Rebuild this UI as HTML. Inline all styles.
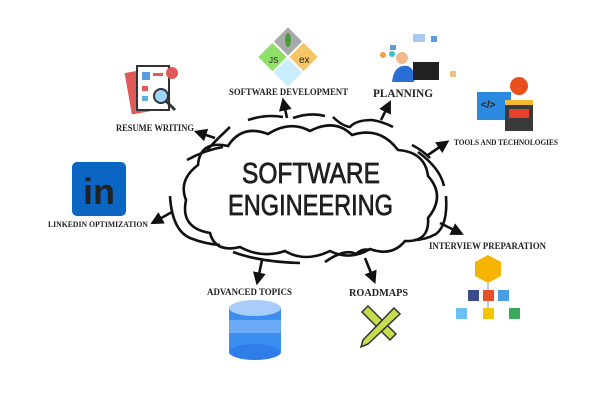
<!DOCTYPE html>
<html><head><meta charset="utf-8"><style>
html,body{margin:0;padding:0;background:#fff;width:600px;height:400px;overflow:hidden}
svg text{font-family:"Liberation Serif",serif;font-weight:bold;fill:#222}
</style></head><body>
<svg width="600" height="400" viewBox="0 0 600 400" xmlns="http://www.w3.org/2000/svg">
<defs><marker id="a" markerWidth="5" markerHeight="5" refX="2.5" refY="2.5" orient="auto"><path d="M0,0 L5,2.5 L0,5 Z" fill="#111"/></marker></defs>
<!-- cloud -->
<path d="M198 165 Q200 140 228 146 Q242 124 268 134 Q290 120 310 131 Q335 118 352 135 Q380 126 398 150 Q425 152 428 176 Q446 196 428 218 Q430 242 405 241 Q392 257 370 249 Q350 261 330 251 Q305 263 285 251 Q262 259 240 247 Q215 253 210 233 Q180 228 186 200 Q178 180 198 165 Z" fill="none" stroke="#111" stroke-width="2.6"/>
<g fill="none" stroke="#111" stroke-width="2.6">
<path d="M187 160 Q205 150 223 147"/>
<path d="M207 150 Q218 138 230 127"/>
<path d="M248 120 Q266 114 283 117"/>
<path d="M293 118 Q310 112 325 116"/>
<path d="M333 117 Q342 126 350 127 Q356 120 372 120 Q384 122 393 127"/>
<path d="M412 145 Q422 150 430 158"/>
<path d="M418 152 Q440 168 444 186"/>
<path d="M446 196 Q448 225 436 234 Q425 240 414 240"/>
<path d="M170 196 Q172 230 190 238 Q205 244 220 245"/>
<path d="M233 252 Q260 262 300 263"/>
<path d="M325 262 Q345 248 356 254 Q362 248 370 250"/>
</g>
<g stroke="#111" stroke-width="2.6" marker-end="url(#a)">
<line x1="215" y1="138" x2="200" y2="133"/>
<line x1="287" y1="118" x2="284" y2="104"/>
<line x1="381" y1="120" x2="388" y2="106"/>
<line x1="428" y1="155" x2="444" y2="144"/>
<line x1="172" y1="212" x2="156" y2="221"/>
<line x1="440" y1="223" x2="458" y2="232"/>
<line x1="262" y1="260" x2="258" y2="279"/>
<line x1="365" y1="258" x2="373" y2="278"/>
</g>
<text x="242" y="183" textLength="138" lengthAdjust="spacingAndGlyphs" style="font-family:'Liberation Sans',sans-serif;font-weight:normal;font-size:29px;stroke:#111;stroke-width:0.7" fill="#111">SOFTWARE</text>
<text x="228" y="215" textLength="165" lengthAdjust="spacingAndGlyphs" style="font-family:'Liberation Sans',sans-serif;font-weight:normal;font-size:29px;stroke:#111;stroke-width:0.7" fill="#111">ENGINEERING</text>
<!-- labels -->
<text x="229" y="95" textLength="119" lengthAdjust="spacingAndGlyphs" font-size="9">SOFTWARE DEVELOPMENT</text>
<text x="373" y="97" textLength="60" lengthAdjust="spacingAndGlyphs" font-size="11.5">PLANNING</text>
<text x="116" y="131" textLength="78" lengthAdjust="spacingAndGlyphs" font-size="9">RESUME WRITING</text>
<text x="454" y="145" textLength="104" lengthAdjust="spacingAndGlyphs" font-size="8">TOOLS AND TECHNOLOGIES</text>
<text x="48" y="227" textLength="100" lengthAdjust="spacingAndGlyphs" font-size="8.5">LINKEDIN OPTIMIZATION</text>
<text x="429" y="249" textLength="117" lengthAdjust="spacingAndGlyphs" font-size="9">INTERVIEW PREPARATION</text>
<text x="207" y="295" textLength="85" lengthAdjust="spacingAndGlyphs" font-size="9.5">ADVANCED TOPICS</text>
<text x="349" y="296" textLength="59" lengthAdjust="spacingAndGlyphs" font-size="10">ROADMAPS</text>
<!-- linkedin -->
<rect x="72" y="162" width="54" height="54" rx="5" fill="#0a66c2"/>
<text x="99" y="204" text-anchor="middle" style="font-family:'Liberation Sans',sans-serif;font-weight:bold;font-size:36px" fill="#fff">in</text>
<!-- database -->
<rect x="229" y="308" width="52" height="44" fill="#3b8ef0"/>
<rect x="229" y="320" width="52" height="13" fill="#6aa9f5"/>
<ellipse cx="255" cy="352" rx="26" ry="8" fill="#2f7de8"/>
<ellipse cx="255" cy="308" rx="26" ry="8" fill="#a9cdfb"/>
<!-- diamond icon -->
<g transform="translate(288,57) rotate(45)">
<rect x="-21" y="-21" width="20" height="20" fill="#aaa"/>
<rect x="1" y="-21" width="20" height="20" fill="#f6c565"/>
<rect x="-21" y="1" width="20" height="20" fill="#8ee06a"/>
<rect x="1" y="1" width="20" height="20" fill="#c9ecff"/>
</g>
<ellipse cx="288" cy="40" rx="3" ry="7" fill="#4a9a3a"/>
<text x="299" y="63" font-size="10" style="font-family:'Liberation Sans',sans-serif;font-weight:normal">ex</text>
<text x="269" y="63" font-size="8" style="font-family:'Liberation Sans',sans-serif;font-weight:normal">JS</text>
<!-- resume icon -->
<rect x="128" y="70" width="32" height="42" fill="#e05a5a" transform="rotate(-10 144 91)"/>
<rect x="137" y="66" width="32" height="44" fill="#fff" stroke="#333" stroke-width="2"/>
<rect x="142" y="72" width="8" height="8" fill="#5a9ee0"/><rect x="153" y="73" width="10" height="3" fill="#e05a5a"/>
<rect x="142" y="86" width="6" height="5" fill="#e05a5a"/><rect x="142" y="96" width="6" height="5" fill="#5ab0e0"/>
<circle cx="161" cy="96" r="7" fill="#9ad4ff" stroke="#333" stroke-width="2"/>
<line x1="166" y1="101" x2="175" y2="110" stroke="#333" stroke-width="3"/>
<circle cx="172" cy="73" r="6" fill="#e05a5a"/>
<!-- planning -->
<circle cx="402" cy="58" r="6" fill="#f2b98c"/><path d="M392 82 Q394 64 408 66 Q416 70 414 82 Z" fill="#2a6fd6"/>
<rect x="413" y="62" width="26" height="18" fill="#222"/>
<rect x="390" y="45" width="6" height="5" fill="#5a9ee0"/><rect x="413" y="34" width="12" height="8" fill="#aac8f0"/><rect x="431" y="36" width="6" height="6" fill="#5a9ee0"/>
<circle cx="383" cy="55" r="3" fill="#f0a040"/><circle cx="392" cy="54" r="3" fill="#3cc0c0"/><rect x="450" y="71" width="6" height="6" fill="#f0c080"/>
<!-- tools -->
<circle cx="519" cy="86" r="9" fill="#e8501e"/>
<rect x="477" y="92" width="34" height="28" fill="#2b8ae0"/><text x="481" y="108" font-size="10" fill="#fff" style="font-family:'Liberation Sans',sans-serif">&lt;/&gt;</text>
<rect x="505" y="100" width="28" height="31" fill="#3a3a3a"/><rect x="505" y="100" width="28" height="5" fill="#f5b82e"/><rect x="509" y="109" width="20" height="9" fill="#e8402a"/>
<!-- interview -->
<path d="M488 255 L501 262 L501 276 L488 283 L475 276 L475 262 Z" fill="#f5b400"/>
<line x1="488" y1="283" x2="488" y2="310" stroke="#bcd" stroke-width="2"/>
<rect x="468" y="290" width="11" height="11" fill="#3a4a8a"/><rect x="483" y="290" width="11" height="11" fill="#e8502a"/><rect x="498" y="290" width="11" height="11" fill="#4a9ee8"/>
<rect x="456" y="308" width="11" height="11" fill="#6ac0f0"/><rect x="483" y="308" width="11" height="11" fill="#f5c400"/><rect x="509" y="308" width="11" height="11" fill="#3aaa5a"/>
<!-- roadmaps -->
<path d="M362 312 L368 306 L396 334 L390 340 Z" fill="#c8dc50" stroke="#333" stroke-width="1.5"/>
<path d="M394 308 L400 314 L368 344 L361 347 L363 340 Z" fill="#c8dc50" stroke="#333" stroke-width="1.5"/>
</svg>
</body></html>
